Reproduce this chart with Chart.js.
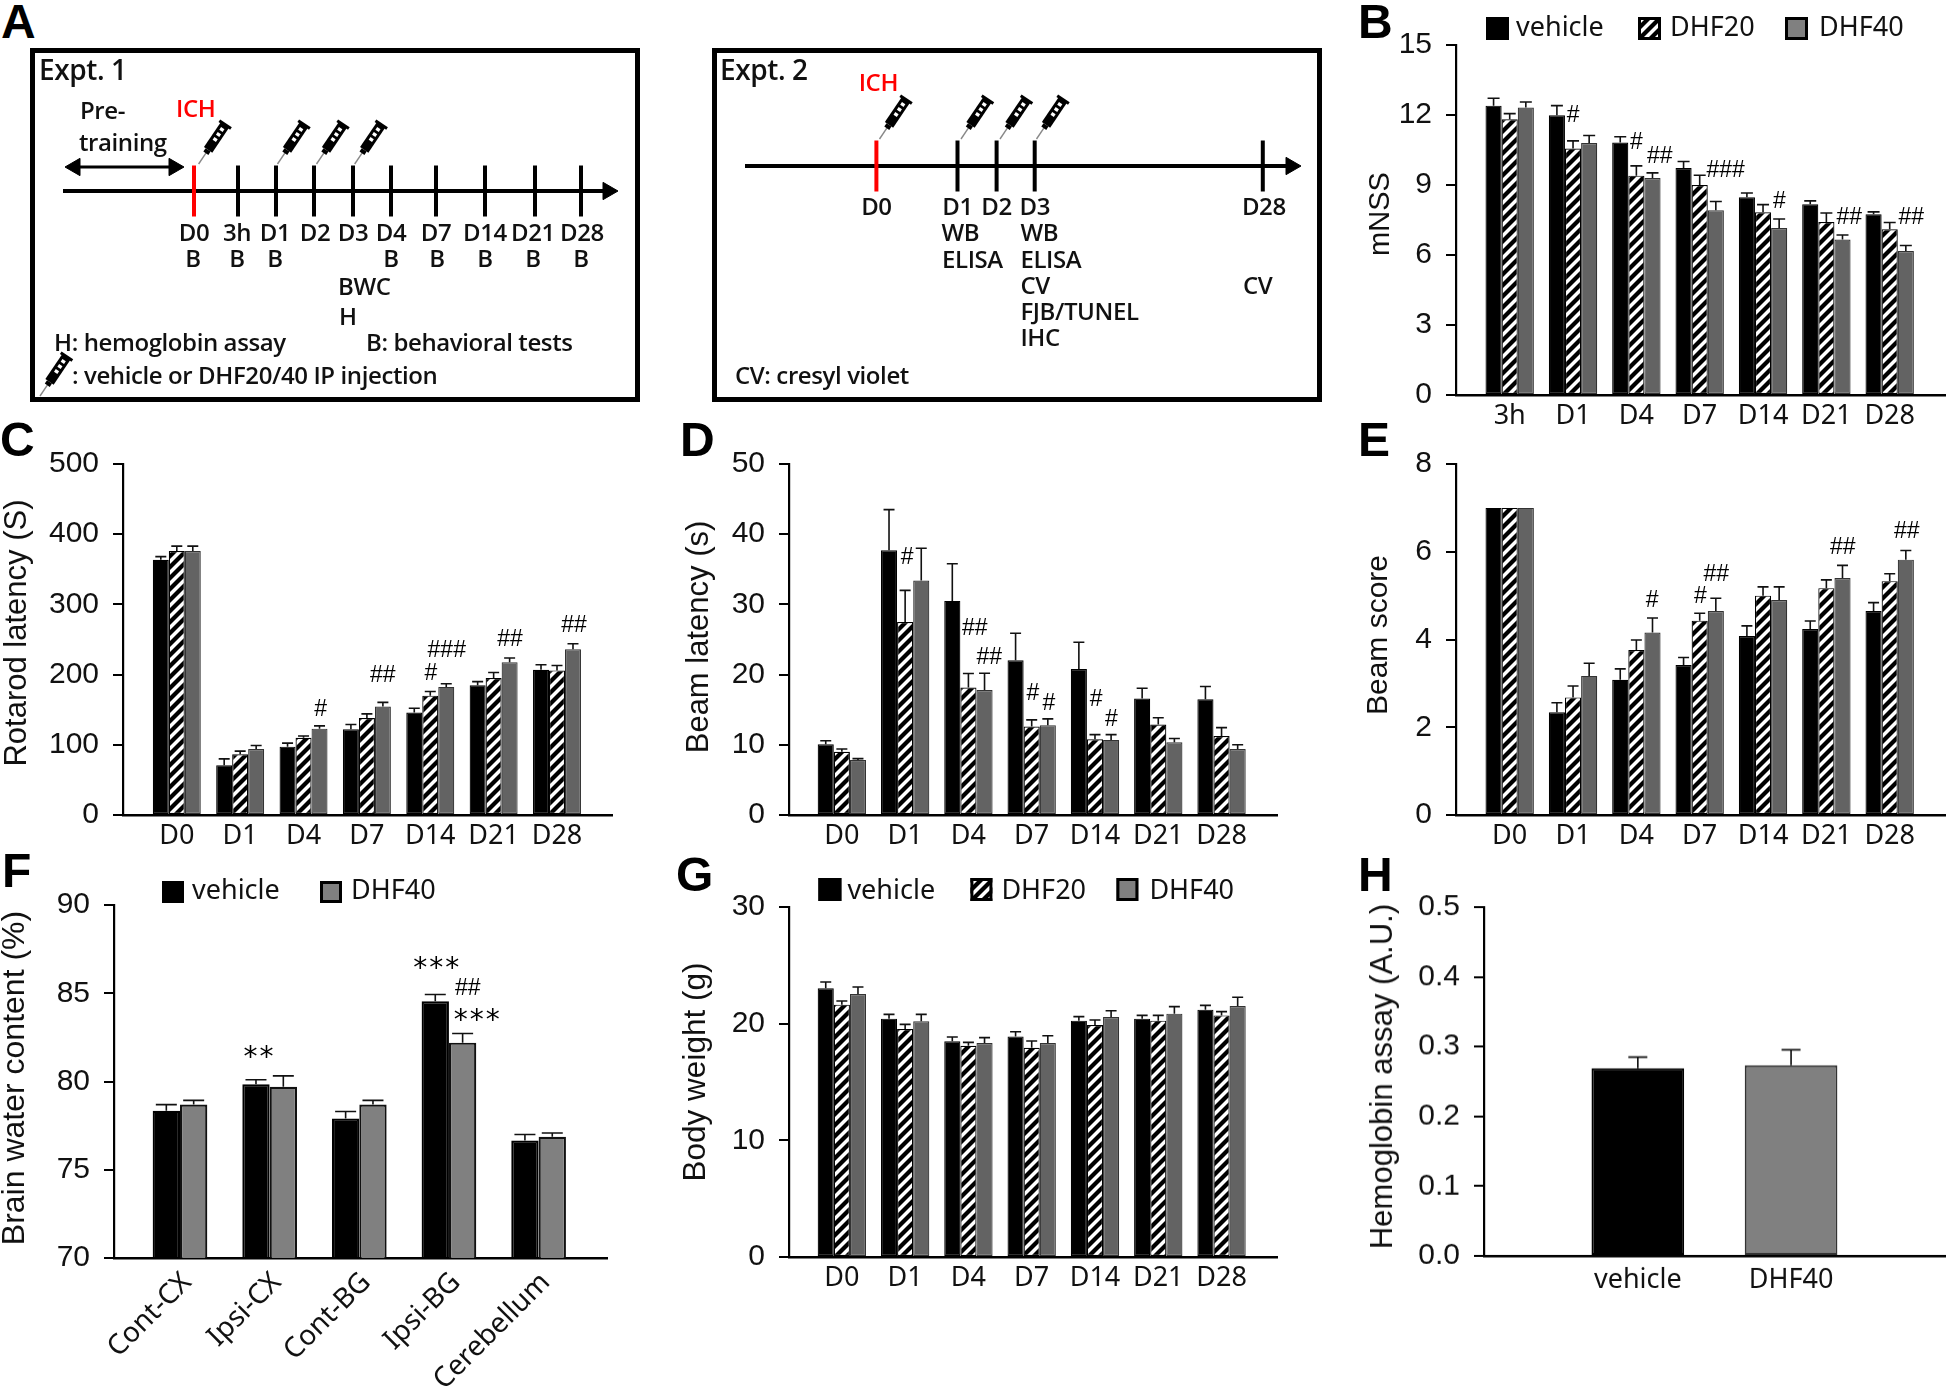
<!DOCTYPE html>
<html>
<head>
<meta charset="utf-8">
<title>Panels A-H</title>
<script src="https://cdn.jsdelivr.net/npm/chart.js@4/dist/chart.umd.min.js"></script>
<style>
    html, body { margin: 0; padding: 0; background: #fff; }
    #page { position: relative; width: 1946px; height: 1386px; overflow: hidden; }
    canvas { position: absolute; }
    .letter { position: absolute; font: bold 48px "Liberation Sans", sans-serif; line-height: 48px; color: #000; }
</style>
</head>
<body>
<div id="page"></div>
<script>
const dayLabels = ['D0', 'D1', 'D4', 'D7', 'D14', 'D21', 'D28'];
const mnssLabels = ['3h', 'D1', 'D4', 'D7', 'D14', 'D21', 'D28'];
const regionLabels = ['Cont-CX', 'Ipsi-CX', 'Cont-BG', 'Ipsi-BG', 'Cerebellum'];
const hemoLabels = ['vehicle', 'DHF40'];

const mnssVehicle = [12.4, 11.99, 10.82, 9.73, 8.48, 8.18, 7.75];
const mnssVehicleErr = [0.32, 0.41, 0.25, 0.28, 0.18, 0.14, 0.1];
const mnssDhf20 = [11.82, 10.56, 9.4, 9.0, 7.83, 7.41, 7.1];
const mnssDhf20Err = [0.24, 0.33, 0.42, 0.42, 0.33, 0.39, 0.29];
const mnssDhf40 = [12.32, 10.8, 9.3, 7.92, 7.16, 6.66, 6.17];
const mnssDhf40Err = [0.24, 0.32, 0.22, 0.37, 0.38, 0.2, 0.24];

const rotarodVehicle = [363.6, 71, 97.4, 122, 146, 185, 207];
const rotarodVehicleErr = [4.5, 9, 5, 7, 6, 5, 7];
const rotarodDhf20 = [376, 86.5, 110, 138, 170, 195, 206];
const rotarodDhf20Err = [7, 4.5, 2.6, 6, 6, 8, 7];
const rotarodDhf40 = [376, 94, 123, 154.5, 182.5, 217.7, 236];
const rotarodDhf40Err = [7, 5, 4, 6, 4.5, 6, 8];

const beamLatVehicle = [10.08, 37.7, 30.5, 22.05, 20.8, 16.6, 16.5];
const beamLatVehicleErr = [0.5, 5.8, 5.3, 3.85, 3.8, 1.46, 1.8];
const beamLatDhf20 = [9.0, 27.5, 18.15, 12.6, 10.8, 12.9, 11.25];
const beamLatDhf20Err = [0.4, 4.5, 2, 0.95, 0.65, 0.95, 1.2];
const beamLatDhf40 = [7.85, 33.4, 17.8, 12.8, 10.7, 10.35, 9.4];
const beamLatDhf40Err = [0.18, 4.6, 2.4, 0.9, 0.75, 0.55, 0.6];

const beamScoreVehicle = [7, 2.34, 3.08, 3.42, 4.08, 4.24, 4.65];
const beamScoreVehicleErr = [0, 0.22, 0.25, 0.17, 0.23, 0.18, 0.19];
const beamScoreDhf20 = [7, 2.68, 3.76, 4.43, 5.0, 5.17, 5.33];
const beamScoreDhf20Err = [0, 0.26, 0.23, 0.17, 0.2, 0.19, 0.17];
const beamScoreDhf40 = [7, 3.17, 4.16, 4.65, 4.9, 5.4, 5.82];
const beamScoreDhf40Err = [0, 0.29, 0.33, 0.29, 0.3, 0.29, 0.21];

const waterVehicle = [78.34, 79.85, 77.9, 84.54, 76.66];
const waterVehicleErr = [0.35, 0.25, 0.4, 0.39, 0.34];
const waterDhf40 = [78.69, 79.7, 78.69, 82.2, 76.87];
const waterDhf40Err = [0.24, 0.62, 0.24, 0.52, 0.21];

const weightVehicle = [23.03, 20.43, 18.49, 18.91, 20.26, 20.43, 21.2];
const weightVehicleErr = [0.54, 0.37, 0.37, 0.4, 0.34, 0.28, 0.37];
const weightDhf20 = [21.63, 19.54, 18.11, 17.94, 19.89, 20.26, 20.71];
const weightDhf20Err = [0.31, 0.4, 0.29, 0.57, 0.42, 0.45, 0.32];
const weightDhf40 = [22.54, 20.2, 18.34, 18.34, 20.57, 20.86, 21.51];
const weightDhf40Err = [0.6, 0.6, 0.46, 0.63, 0.54, 0.6, 0.75];

const hemoValues = [0.269, 0.2734];
const hemoErr = [0.016, 0.022];

const expt1Ticks = ['D0', '3h', 'D1', 'D2', 'D3', 'D4', 'D7', 'D14', 'D21', 'D28'];
const expt2Ticks = ['D0', 'D1', 'D2', 'D3', 'D28'];

const page = document.getElementById('page');
const DARK = '#636363';
const MID = '#808080';
const TICK_FONT = '"Liberation Sans", Arial, sans-serif';
const LABEL_FONT = '"Noto Sans", sans-serif';
const SCHEME_FONT = '"Open Sans", "Noto Sans", sans-serif';

function addCanvas(left, top, width, height) {
    const canvas = document.createElement('canvas');
    canvas.width = width;
    canvas.height = height;
    canvas.style.left = left + 'px';
    canvas.style.top = top + 'px';
    canvas.style.width = width + 'px';
    canvas.style.height = height + 'px';
    page.appendChild(canvas);
    return canvas;
}

function hatchPattern() {
    const tile = document.createElement('canvas');
    tile.width = 11;
    tile.height = 11;
    const g = tile.getContext('2d');
    g.fillStyle = '#fff';
    g.fillRect(0, 0, 11, 11);
    g.strokeStyle = '#000';
    g.lineWidth = 4.2;
    [[-11, 11, 11, -11], [0, 11, 11, 0], [0, 22, 22, 0]].forEach(([x1, y1, x2, y2]) => {
        g.beginPath();
        g.moveTo(x1, y1);
        g.lineTo(x2, y2);
        g.stroke();
    });
    return g.createPattern(tile, 'repeat');
}
const HATCH = hatchPattern();

// error bars, significance marks, rotated title and legend for one bar panel
const panelExtras = {
    id: 'panelExtras',
    afterDatasetsDraw(chart, args, opts) {
        const { ctx, scales } = chart;
        const offsetX = opts.canvasLeft;
        const offsetY = opts.canvasTop;
        ctx.save();
        chart.data.datasets.forEach((ds, d) => {
            chart.getDatasetMeta(d).data.forEach((bar, i) => {
                const err = ds.errors[i];
                if (!err) return;
                const top = scales.y.getPixelForValue(ds.data[i].y + err);
                ctx.strokeStyle = '#111';
                ctx.lineWidth = 1.6;
                ctx.beginPath();
                ctx.moveTo(bar.x, bar.y);
                ctx.lineTo(bar.x, top);
                ctx.moveTo(bar.x - opts.capWidth / 2, top);
                ctx.lineTo(bar.x + opts.capWidth / 2, top);
                ctx.stroke();
            });
        });

        ctx.fillStyle = '#000';
        ctx.textBaseline = 'middle';
        ctx.textAlign = 'center';
        (opts.marks || []).forEach(([x, y, text]) => {
            const px = scales.x.getPixelForValue(x);
            const py = scales.y.getPixelForValue(y);
            if (text.includes('*')) {
                ctx.font = '28px "DejaVu Sans"';
                ctx.letterSpacing = '2px';
                ctx.fillText(text, px, py + 6);
                ctx.letterSpacing = '0px';
            } else {
                ctx.font = '23px ' + TICK_FONT;
                ctx.fillText(text, px, py);
            }
        });

        const title = opts.title;
        ctx.save();
        ctx.translate(title.x - offsetX, title.y - offsetY);
        ctx.rotate(-Math.PI / 2);
        ctx.font = title.size + 'px ' + TICK_FONT;
        ctx.fillStyle = '#111';
        ctx.fillText(scales.y.options.title.text, 0, 0);
        ctx.restore();

        if (opts.legend) {
            const { top, bottom, entries } = opts.legend;
            chart.data.datasets.forEach((ds, d) => {
                const [x1, x2, textX] = entries[d];
                const left = x1 - offsetX;
                const width = x2 - x1;
                const y = top - offsetY;
                const height = bottom - top;
                ctx.fillStyle = ds.swatch;
                ctx.fillRect(left, y, width, height);
                ctx.strokeStyle = '#000';
                ctx.lineWidth = 3;
                ctx.strokeRect(left + 1.5, y + 1.5, width - 3, height - 3);
                ctx.fillStyle = '#111';
                ctx.textAlign = 'left';
                ctx.font = '27px ' + LABEL_FONT;
                ctx.fillText(ds.label, textX - offsetX, opts.legend.textY - offsetY);
            });
        }
        ctx.restore();
    }
};

function barPanel(cfg) {
    const left = Math.max(0, cfg.axisX - 130);
    const top = Math.max(0, cfg.yTop - 46);
    const right = Math.min(1946, cfg.xEnd + 1);
    const bottom = Math.min(1386, cfg.yBase + (cfg.rotate ? 130 : 50));
    const canvas = addCanvas(left, top, right - left, bottom - top);
    const step = (cfg.lastCenter - cfg.firstCenter) / (cfg.labels.length - 1);

    const datasets = cfg.series.map((s) => ({
        label: s.label,
        data: s.values.map((v, i) => ({ x: i, y: v })),
        errors: s.errors,
        backgroundColor: s.fill,
        swatch: s.swatch || s.fill,
        borderColor: s.border || '#222',
        borderWidth: cfg.barBorder || 1.2,
        borderSkipped: false,
        barPercentage: cfg.barPercent || 1,
        categoryPercentage: cfg.groupPercent
    }));

    return new Chart(canvas, {
        type: 'bar',
        data: { datasets },
        options: {
            responsive: false,
            animation: false,
            devicePixelRatio: 1,
            layout: { padding: { top: cfg.yTop - top, right: right - cfg.xEnd, left: 0, bottom: 0 } },
            plugins: {
                legend: { display: false },
                tooltip: { enabled: false },
                panelExtras: {
                    canvasLeft: left,
                    canvasTop: top,
                    capWidth: cfg.capWidth,
                    marks: cfg.marks,
                    title: cfg.title,
                    legend: cfg.legend
                }
            },
            scales: {
                x: {
                    type: 'linear',
                    offset: false,
                    min: (cfg.axisX - cfg.firstCenter) / step,
                    max: (cfg.xEnd - cfg.firstCenter) / step,
                    afterBuildTicks: (scale) => {
                        scale.ticks = cfg.labels.map((_, i) => ({ value: i }));
                    },
                    afterFit: (scale) => { scale.height = bottom - cfg.yBase; },
                    grid: { display: false },
                    border: { display: true, color: '#000', width: 2.6 },
                    ticks: {
                        autoSkip: false,
                        color: '#111',
                        padding: cfg.labelPad || 0,
                        labelOffset: cfg.rotate ? 7 : 0,
                        minRotation: cfg.rotate || 0,
                        maxRotation: cfg.rotate || 0,
                        font: { family: '"Noto Sans"', size: cfg.rotate ? 28 : 27, lineHeight: 1 },
                        callback: (value) => cfg.labels[value]
                    }
                },
                y: {
                    min: cfg.yMin,
                    max: cfg.yMax,
                    title: { display: false, text: cfg.title.text },
                    afterBuildTicks: (scale) => {
                        scale.ticks = cfg.yTicks.map((value) => ({ value }));
                    },
                    afterFit: (scale) => { scale.width = cfg.axisX - left; },
                    grid: { drawOnChartArea: false, drawTicks: true, tickLength: 10, color: '#000', lineWidth: 2 },
                    border: { display: true, color: '#000', width: 2.2 },
                    ticks: {
                        color: '#111',
                        padding: 14,
                        font: { family: 'Liberation Sans', size: 30 },
                        callback: (value) => (cfg.tickDigits ? value.toFixed(cfg.tickDigits) : String(value))
                    }
                }
            }
        },
        plugins: [panelExtras]
    });
}

function threeSeries(vehicle, vehicleErr, dhf20, dhf20Err, dhf40, dhf40Err) {
    return [
        { label: 'vehicle', values: vehicle, errors: vehicleErr, fill: '#000', border: '#000' },
        { label: 'DHF20', values: dhf20, errors: dhf20Err, fill: HATCH, border: '#000' },
        { label: 'DHF40', values: dhf40, errors: dhf40Err, fill: DARK, swatch: MID, border: '#333' }
    ];
}

barPanel({
    labels: mnssLabels, axisX: 1456, xEnd: 1945, yTop: 45, yBase: 395.3,
    firstCenter: 1509.7, lastCenter: 1889.7, groupPercent: 0.764, capWidth: 12,
    yMin: 0, yMax: 15, yTicks: [0, 3, 6, 9, 12, 15],
    title: { text: 'mNSS', x: 1381, y: 214, size: 29 },
    series: threeSeries(mnssVehicle, mnssVehicleErr, mnssDhf20, mnssDhf20Err, mnssDhf40, mnssDhf40Err),
    legend: { top: 17, bottom: 40, textY: 28, entries: [[1486, 1509, 1516], [1638, 1661, 1670], [1785, 1808, 1819]] },
    marks: [[1.0, 11.96, '#'], [2.0, 10.82, '#'], [2.37, 10.22, '##'], [3.41, 9.6, '###'], [4.26, 8.29, '#'], [5.36, 7.62, '##'], [6.34, 7.6, '##']]
});

barPanel({
    labels: dayLabels, axisX: 123, xEnd: 612, yTop: 464, yBase: 815,
    firstCenter: 176.8, lastCenter: 557, groupPercent: 0.757, capWidth: 11,
    yMin: 0, yMax: 500, yTicks: [0, 100, 200, 300, 400, 500],
    title: { text: 'Rotarod latency (S)', x: 17, y: 633, size: 31 },
    series: threeSeries(rotarodVehicle, rotarodVehicleErr, rotarodDhf20, rotarodDhf20Err, rotarodDhf40, rotarodDhf40Err),
    marks: [[2.27, 150, '#'], [3.25, 199, '##'], [4.01, 202, '#'], [4.26, 234, '###'], [5.26, 249.5, '##'], [6.27, 269.5, '##']]
});

barPanel({
    labels: dayLabels, axisX: 788.6, xEnd: 1277, yTop: 464, yBase: 815,
    firstCenter: 841.5, lastCenter: 1221.5, groupPercent: 0.764, capWidth: 11,
    yMin: 0, yMax: 50, yTicks: [0, 10, 20, 30, 40, 50],
    title: { text: 'Beam latency (s)', x: 698.7, y: 637, size: 31 },
    series: threeSeries(beamLatVehicle, beamLatVehicleErr, beamLatDhf20, beamLatDhf20Err, beamLatDhf40, beamLatDhf40Err),
    marks: [[1.03, 36.6, '#'], [2.1, 26.5, '##'], [2.33, 22.4, '##'], [3.02, 17.25, '#'], [3.27, 15.8, '#'], [4.02, 16.5, '#'], [4.26, 13.55, '#']]
});

barPanel({
    labels: dayLabels, axisX: 1456, xEnd: 1945, yTop: 464, yBase: 815,
    firstCenter: 1509.7, lastCenter: 1889.7, groupPercent: 0.764, capWidth: 11,
    yMin: 0, yMax: 8, yTicks: [0, 2, 4, 6, 8],
    title: { text: 'Beam score', x: 1379, y: 635, size: 30 },
    series: threeSeries(beamScoreVehicle, beamScoreVehicleErr, beamScoreDhf20, beamScoreDhf20Err, beamScoreDhf40, beamScoreDhf40Err),
    marks: [[2.25, 4.89, '#'], [3.01, 4.98, '#'], [3.26, 5.48, '##'], [5.26, 6.1, '##'], [6.27, 6.45, '##']]
});

barPanel({
    labels: regionLabels, axisX: 114, xEnd: 607, yTop: 905, yBase: 1258,
    firstCenter: 180, lastCenter: 538.6, groupPercent: 0.61, capWidth: 21, barBorder: 2.2, rotate: 45, labelPad: 2,
    yMin: 70, yMax: 90, yTicks: [70, 75, 80, 85, 90],
    title: { text: 'Brain water content (%)', x: 15, y: 1078, size: 32 },
    series: [
        { label: 'vehicle', values: waterVehicle, errors: waterVehicleErr, fill: '#000', border: '#000' },
        { label: 'DHF40', values: waterDhf40, errors: waterDhf40Err, fill: MID, border: '#111' }
    ],
    legend: { top: 881, bottom: 903, textY: 891, entries: [[162, 184, 192], [320, 342, 351]] },
    marks: [[0.887, 81.64, '**'], [2.87, 86.67, '***'], [3.21, 85.26, '##'], [3.32, 83.7, '***']]
});

barPanel({
    labels: dayLabels, axisX: 788.6, xEnd: 1277, yTop: 907, yBase: 1257,
    firstCenter: 841.5, lastCenter: 1221.5, groupPercent: 0.764, capWidth: 11,
    yMin: 0, yMax: 30, yTicks: [0, 10, 20, 30],
    title: { text: 'Body weight (g)', x: 696, y: 1072, size: 31.5 },
    series: threeSeries(weightVehicle, weightVehicleErr, weightDhf20, weightDhf20Err, weightDhf40, weightDhf40Err),
    legend: { top: 878, bottom: 901, textY: 891, entries: [[818, 841, 847], [970, 992, 1001], [1116, 1138, 1149]] }
});

barPanel({
    labels: hemoLabels, axisX: 1483.8, xEnd: 1945, yTop: 907, yBase: 1255.7,
    firstCenter: 1637.7, lastCenter: 1791, groupPercent: 0.605, capWidth: 19, barBorder: 2, tickDigits: 1, labelPad: 3,
    yMin: 0, yMax: 0.5, yTicks: [0, 0.1, 0.2, 0.3, 0.4, 0.5],
    title: { text: 'Hemoglobin assay (A.U.)', x: 1383.4, y: 1076, size: 31 },
    series: [{ label: 'Hemoglobin', values: hemoValues, errors: hemoErr, fill: ['#000', MID], swatch: '#000', border: ['#000', '#333'] }]
});

// schematic timelines, drawn on scales that span the box in page units
const timelineText = {
    id: 'timelineText',
    beforeDraw(chart) {
        const { ctx, chartArea: a } = chart;
        ctx.save();
        ctx.strokeStyle = '#000';
        ctx.lineWidth = 5;
        ctx.strokeRect(a.left + 2.5, a.top + 2.5, a.width - 5, a.height - 5);
        ctx.restore();
    },
    afterDraw(chart, args, opts) {
        const { ctx, scales } = chart;
        ctx.save();
        ctx.textBaseline = 'middle';
        opts.items.forEach(([x, y, text, align, color, size]) => {
            ctx.font = '600 ' + (size || 24) + 'px ' + SCHEME_FONT;
            ctx.letterSpacing = '-0.4px';
            ctx.textAlign = align || 'left';
            ctx.fillStyle = color || '#111';
            ctx.fillText(text, scales.x.getPixelForValue(x), scales.y.getPixelForValue(y));
        });
        opts.syringes.forEach(([x, y]) => {
            ctx.save();
            ctx.translate(scales.x.getPixelForValue(x), scales.y.getPixelForValue(y));
            ctx.rotate(-56 * Math.PI / 180);
            ctx.strokeStyle = '#888';
            ctx.lineWidth = 1.4;
            ctx.beginPath();
            ctx.moveTo(0, 0);
            ctx.lineTo(14, 0);
            ctx.stroke();
            ctx.fillStyle = '#000';
            ctx.fillRect(13, -3, 4, 6);
            ctx.fillRect(17, -5, 30, 10);
            ctx.fillRect(46, -7, 3, 14);
            ctx.fillStyle = '#fff';
            [28, 34, 40].forEach((p) => ctx.fillRect(p, -2, 3.2, 4));
            ctx.restore();
        });
        ctx.restore();
    }
};

function timelinePanel(cfg) {
    const [x1, y1, x2, y2] = cfg.box;
    const canvas = addCanvas(x1, y1, x2 - x1, y2 - y1);
    const tickPoints = cfg.tickX.map((x) => ({ x, y: cfg.lineY }));
    const datasets = [
        {
            type: 'scatter',
            data: tickPoints,
            showLine: false,
            pointStyle: 'line',
            rotation: 90,
            pointRadius: 25.5,
            pointBorderWidth: 4,
            pointBorderColor: cfg.tickX.map((_, i) => (i === 0 ? '#f00' : '#000'))
        },
        {
            type: 'line',
            data: [{ x: cfg.lineStart, y: cfg.lineY }, { x: cfg.lineEnd, y: cfg.lineY }],
            borderColor: '#000',
            borderWidth: 4,
            pointRadius: 0
        },
        {
            type: 'scatter',
            data: [{ x: cfg.lineEnd, y: cfg.lineY }],
            pointStyle: 'triangle',
            rotation: 90,
            pointRadius: 10,
            backgroundColor: '#000',
            borderColor: '#000'
        }
    ];
    if (cfg.span) {
        datasets.push({
            type: 'line',
            data: [{ x: cfg.span[0], y: cfg.span[2] }, { x: cfg.span[1], y: cfg.span[2] }],
            borderColor: '#000',
            borderWidth: 3,
            pointRadius: 0
        }, {
            type: 'scatter',
            data: [{ x: cfg.span[0] + 7, y: cfg.span[2] }, { x: cfg.span[1] - 7, y: cfg.span[2] }],
            pointStyle: 'triangle',
            rotation: (c) => (c.dataIndex === 0 ? 270 : 90),
            pointRadius: 10,
            backgroundColor: '#000',
            borderColor: '#000'
        });
    }
    return new Chart(canvas, {
        data: { datasets },
        options: {
            responsive: false,
            animation: false,
            devicePixelRatio: 1,
            layout: { padding: 0, autoPadding: false },
            plugins: {
                legend: { display: false },
                tooltip: { enabled: false },
                timelineText: { items: cfg.items, syringes: cfg.syringes }
            },
            scales: {
                x: { type: 'linear', display: false, min: x1, max: x2 },
                y: { type: 'linear', display: false, min: y1, max: y2, reverse: true }
            }
        },
        plugins: [timelineText]
    });
}

const expt1X = [194, 238, 276, 314, 353, 391, 436, 485, 535, 581];
const expt2X = [876.4, 957.5, 996.6, 1034.7, 1262.8];

timelinePanel({
    box: [30, 48, 640, 402], tickX: expt1X, lineY: 191, lineStart: 63, lineEnd: 608,
    span: [68, 181, 167],
    syringes: [[198.6, 164], [277.5, 164], [316.5, 164], [354.7, 164], [40, 396]],
    items: [
        [39, 72, 'Expt. 1', 'left', '#111', 28],
        [80, 112, 'Pre-'], [79, 144, 'training'], [176, 110, 'ICH', 'left', '#f00'],
        ...expt1Ticks.map((t, i) => [[194, 237, 275, 315, 353, 391, 436, 485, 533, 582][i], 234, t, 'center']),
        [193, 260, 'B', 'center'], [237, 260, 'B', 'center'], [275, 260, 'B', 'center'], [391, 260, 'B', 'center'],
        [437, 260, 'B', 'center'], [485, 260, 'B', 'center'], [533, 260, 'B', 'center'], [581, 260, 'B', 'center'],
        [338, 288, 'BWC'], [339, 318, 'H'],
        [54, 344, 'H: hemoglobin assay'], [366, 344, 'B: behavioral tests'],
        [72, 377, ': vehicle or DHF20/40 IP injection']
    ]
});

timelinePanel({
    box: [712, 48, 1322, 402], tickX: expt2X, lineY: 166, lineStart: 745, lineEnd: 1291,
    syringes: [[879.5, 139], [961, 139], [1000, 139], [1036.5, 139]],
    items: [
        [720, 72, 'Expt. 2', 'left', '#111', 28], [858.7, 84, 'ICH', 'left', '#f00'],
        ...expt2Ticks.map((t, i) => [expt2X[i] + (i === 4 ? 1 : 0), 208, t, 'center']),
        [941.5, 234, 'WB'], [942, 261, 'ELISA'],
        [1020.4, 234, 'WB'], [1020.4, 261, 'ELISA'], [1020.4, 287, 'CV'], [1020.4, 313, 'FJB/TUNEL'], [1020.4, 339, 'IHC'],
        [1243, 287, 'CV'], [735, 377, 'CV: cresyl violet']
    ]
});

// panel letters
[['A', 1, -2], ['B', 1358, -2], ['C', 0, 416], ['D', 680, 416], ['E', 1358, 416], ['F', 2, 847], ['G', 676, 851], ['H', 1358, 851]].forEach(([text, x, y]) => {
    const el = document.createElement('div');
    el.className = 'letter';
    el.textContent = text;
    el.style.left = x + 'px';
    el.style.top = y + 'px';
    page.appendChild(el);
});
</script>
</body>
</html>
